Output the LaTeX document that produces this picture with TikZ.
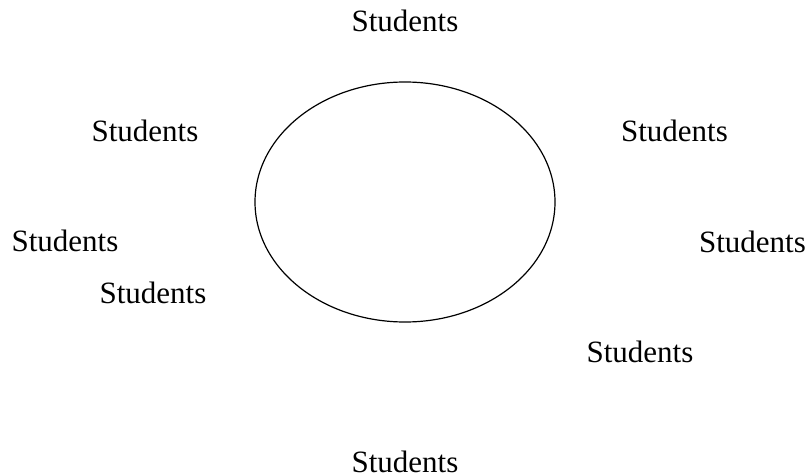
\documentclass[tikz,border=0pt]{standalone}
\usepackage{fontspec}
\setmainfont{Liberation Serif}
\begin{document}
\begin{tikzpicture}[x=1pt,y=-1pt,
  lbl/.style={anchor=base,inner sep=0pt,font=\fontsize{31}{36}\selectfont}]
\useasboundingbox (0,0) rectangle (811,476);
\draw[line width=1.2pt] (405,202) ellipse [x radius=150, y radius=120];
\node[lbl] (s1) at (405,32) {Students};
\node[lbl] (s2) at (145,142) {Students};
\node[lbl] (s3) at (674.5,142) {Students};
\node[lbl] (s4) at (65,251) {Students};
\node[lbl] (s5) at (752.5,252) {Students};
\node[lbl] (s6) at (153,303) {Students};
\node[lbl] (s7) at (640,362) {Students};
\node[lbl] (s8) at (405,472) {Students};
\end{tikzpicture}
\end{document}
